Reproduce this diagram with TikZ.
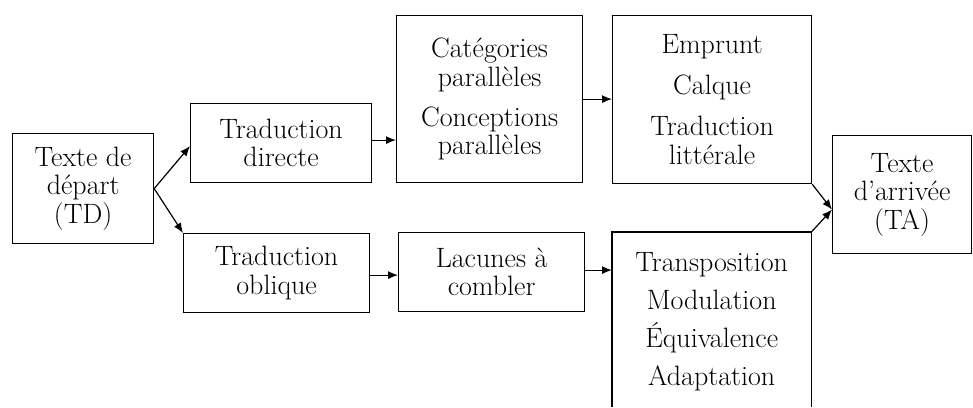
\documentclass[tikz,border=0pt]{standalone}
\usetikzlibrary{arrows.meta,calc}
\begin{document}
\begin{tikzpicture}[x=1pt,y=-1pt,
  box/.style={draw,line width=1.2pt,inner sep=0pt,align=center,anchor=north west,
    font=\fontsize{28}{28.5}\selectfont},
  frame/.style={inner sep=0pt,align=center,anchor=north west,
    font=\fontsize{28}{28.5}\selectfont},
  arr/.style={line width=1.2pt,-{Latex[length=10pt,width=8pt]}}]
\useasboundingbox (0,0) rectangle (973,407);

% left column: source text
\node[box,minimum width=141pt,minimum height=110pt] (td) at (12,133)
  {Texte de\\d\'epart\\(TD)};

% the two ways of translating
\node[box,minimum width=181pt,minimum height=79pt] (dir) at (190,103)
  {Traduction\\directe};
\node[box,minimum width=186pt,minimum height=79pt] (obl) at (183,233)
  {Traduction\\oblique};

% what each way relies on
\node[box,minimum width=186pt,minimum height=167pt] (cat) at (396,15)
  {Cat\'egories\\parall\`eles\\[11.5pt]Conceptions\\parall\`eles};
\node[box,minimum width=186pt,minimum height=79pt] (lac) at (398,232)
  {Lacunes \`a\\combler};

% the procedures
\node[box,minimum width=199pt,minimum height=168pt] (emp) at (612,15)
  {Emprunt\\[12.5pt]Calque\\[12.5pt]Traduction\\litt\'erale};
\node[frame,minimum width=199pt,minimum height=175pt] (tr) at (612,232)
  {\\[-6pt]Transposition\\[9.5pt]Modulation\\[9.5pt]\'Equivalence\\[9.5pt]Adaptation};
\draw[line width=1.2pt] (tr.south west) |- (tr.north east) -- (tr.south east);

% target text
\node[box,minimum width=139pt,minimum height=118pt] (ta) at (832,135)
  {Texte\\d'arriv\'ee\\(TA)};
\coordinate (tain) at ([yshift=-15pt]ta.west);

% connectors
\draw[arr] (td.east) -- ([yshift=-3pt]dir.west);
\draw[arr] (td.east) -- (obl.north west);
\draw[arr] ([yshift=3pt]dir.east) -- ([yshift=3pt]dir.east -| cat.west);
\draw[arr] (cat.east) -- (cat.east -| emp.west);
\draw[arr] ([yshift=-2pt]obl.east) -- ([yshift=-2pt]obl.east -| lac.west);
\draw[arr] ([yshift=2pt]lac.east) -- ([yshift=2pt]lac.east -| tr.west);
\draw[arr] (emp.south east) -- (tain);
\draw[arr] (tr.north east) -- (tain);
\end{tikzpicture}
\end{document}
